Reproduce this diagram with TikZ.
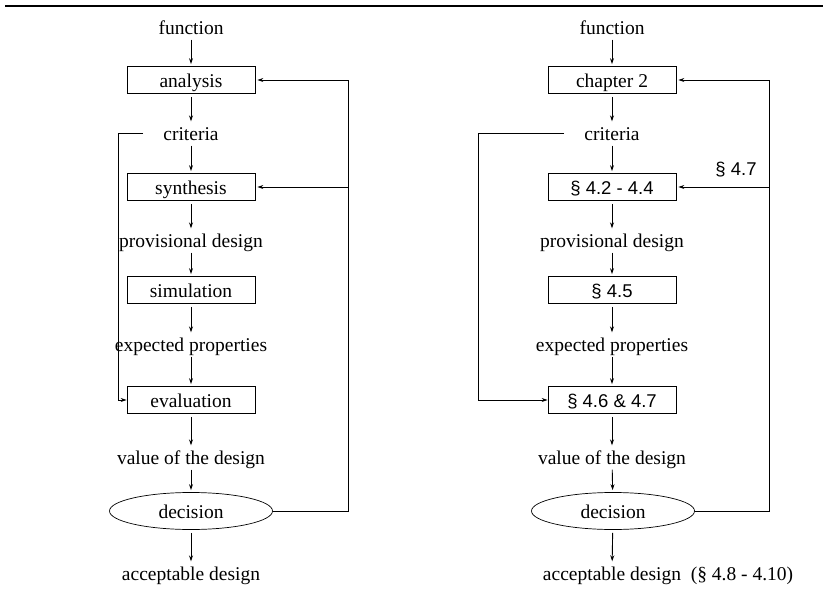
\documentclass[tikz,border=0pt]{standalone}
\usepackage{fontspec}
\setmainfont{Liberation Serif}
\setsansfont{Liberation Sans}
\usetikzlibrary{arrows.meta,shapes.geometric}
\begin{document}
\begin{tikzpicture}[x=1pt,y=-1pt,
  lbl/.style={font=\fontsize{19.5}{22}\selectfont, inner sep=0pt, text height=17pt, text depth=2pt},
  sec/.style={lbl, font=\sffamily\fontsize{18.5}{22}\selectfont},
  stage/.style={draw, line width=0.7pt, minimum width=128pt, minimum height=27pt},
  choice/.style={lbl, draw, ellipse, line width=0.7pt, minimum width=163pt, minimum height=37pt},
  flow/.style={line width=0.9pt, -{Stealth[length=6pt,width=4pt]}},
  down/.style={flow, shorten <=3pt, shorten >=2pt},
  loopline/.style={line width=0.7pt},
]
\useasboundingbox (0,0) rectangle (823,592);
\draw[line width=1.5pt] (5,6) -- (823,6);

% ---------- general scheme ----------
\node[lbl] (funL) at (191,27) {function};
\node[lbl,stage] (anaL) at (191,80) {analysis};
\node[lbl] (critL) at (191,133) {criteria};
\node[lbl,stage] (synL) at (191,187) {synthesis};
\node[lbl] (provL) at (191,240) {provisional design};
\node[lbl,stage] (simL) at (191,290) {simulation};
\node[lbl] (expL) at (191,344) {expected properties};
\node[lbl,stage] (evalL) at (191,400) {evaluation};
\node[lbl] (valL) at (191,457) {value of the design};
\node[choice] (decL) at (191,511) {decision};
\node[lbl] (accL) at (191,573) {acceptable design};

\draw[down] (funL) -- (anaL);
\draw[down] (anaL) -- (critL);
\draw[down] (critL) -- (synL);
\draw[down] (synL) -- (provL);
\draw[down] (provL) -- (simL);
\draw[down] (simL) -- (expL);
\draw[down] (expL) -- (evalL);
\draw[down] (evalL) -- (valL);
\draw[down] (valL) -- (decL);
\draw[down] (decL) -- (accL);

% criteria feed the evaluation
\coordinate (cbL) at (118,133);
\draw[flow] ([xshift=-20pt]critL.west) -- (cbL) |- (evalL.west);

% feedback from the decision
\coordinate (fbL) at (348,80);
\coordinate (jL) at (348,187);
\draw[loopline] (decL.east) -| (fbL);
\draw[flow] (fbL) -- ([xshift=2pt]anaL.east);
\draw[flow] (jL) -- ([xshift=2pt]synL.east);

% ---------- scheme with sections ----------
\node[lbl] (funR) at (612,27) {function};
\node[lbl,stage] (anaR) at (612,80) {chapter 2};
\node[lbl] (critR) at (612,133) {criteria};
\node[sec,stage] (synR) at (612,187) {§ 4.2 - 4.4};
\node[lbl] (provR) at (612,240) {provisional design};
\node[sec,stage] (simR) at (612,290) {§ 4.5};
\node[lbl] (expR) at (612,344) {expected properties};
\node[sec,stage] (evalR) at (612,400) {§ 4.6 \& 4.7};
\node[lbl] (valR) at (612,457) {value of the design};
\node[choice] (decR) at (613,511) {decision};
\node[lbl] (accR) at (612,573) {acceptable design};
\node[lbl] (refR) at (742,573) {(§ 4.8 - 4.10)};
\node[sec] (backR) at (736,168) {§ 4.7};

\draw[down] (funR) -- (anaR);
\draw[down] (anaR) -- (critR);
\draw[down] (critR) -- (synR);
\draw[down] (synR) -- (provR);
\draw[down] (provR) -- (simR);
\draw[down] (simR) -- (expR);
\draw[down] (expR) -- (evalR);
\draw[down] (evalR) -- (valR);
\draw[down] (valR) -- (decR);
\draw[down] (decR) -- (accR);

\coordinate (cbR) at (478,133);
\draw[flow] ([xshift=-20pt]critR.west) -- (cbR) |- (evalR.west);

\coordinate (fbR) at (769,80);
\coordinate (jR) at (769,187);
\draw[loopline] (decR.east) -| (fbR);
\draw[flow] (fbR) -- ([xshift=2pt]anaR.east);
\draw[flow] (jR) -- ([xshift=2pt]synR.east);
\end{tikzpicture}
\end{document}
